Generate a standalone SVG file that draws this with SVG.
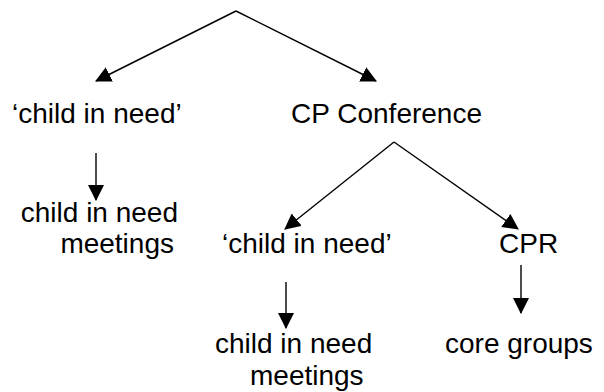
<svg xmlns="http://www.w3.org/2000/svg" width="604" height="392" viewBox="0 0 604 392">
<defs>
<marker id="ah" markerUnits="userSpaceOnUse" markerWidth="16" markerHeight="16" viewBox="0 0 15 15" refX="14" refY="7.5" orient="auto">
<path d="M0,0 L15,7.5 L0,15 Z" fill="#000"/>
</marker>
<style>
.t{font-family:"Liberation Sans",Arial,sans-serif;font-size:28px;fill:#000}
.c{stroke:#000;stroke-width:1.4;fill:none;marker-end:url(#ah)}
</style>
</defs>
<rect width="604" height="392" fill="#fff"/>
<g id="connectors">
<path class="c" d="M236,11 L96,81"/>
<path class="c" d="M236,11 L376,81"/>
<path class="c" d="M96,153 L96,200"/>
<path class="c" d="M394,142 L285,229"/>
<path class="c" d="M394,142 L518,229"/>
<path class="c" d="M286,282 L286,328"/>
<path class="c" d="M521,265 L521,313"/>
</g>
<g id="n1"><text class="t" x="12" y="123">‘child in need’</text></g>
<g id="n2"><text class="t" x="482" y="123" text-anchor="end">CP Conference</text></g>
<g id="n3"><text class="t" x="178" y="222" text-anchor="end">child in need</text><text class="t" x="174" y="253" text-anchor="end">meetings</text></g>
<g id="n4"><text class="t" x="222" y="253">‘child in need’</text></g>
<g id="n5"><text class="t" x="499" y="253">CPR</text></g>
<g id="n6"><text class="t" x="215" y="353">child in need</text><text class="t" x="250" y="385">meetings</text></g>
<g id="n7"><text class="t" x="445" y="353">core groups</text></g>
</svg>
